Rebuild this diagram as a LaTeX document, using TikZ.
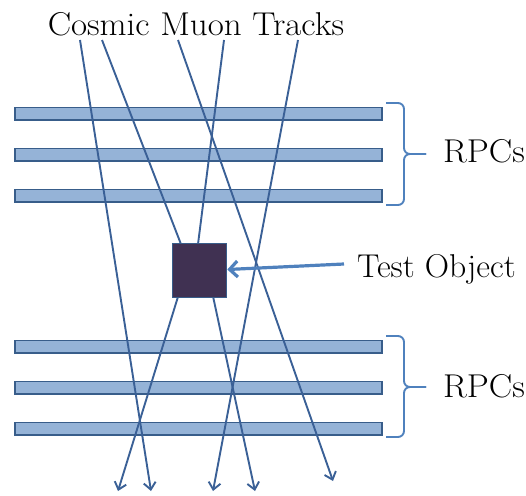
\documentclass[tikz,border=0pt]{standalone}
\usetikzlibrary{arrows.meta}
\definecolor{barfill}{RGB}{149,179,215}
\definecolor{barline}{RGB}{56,93,138}
\definecolor{trackc}{RGB}{58,96,150}
\definecolor{objfill}{RGB}{64,49,82}
\definecolor{bracec}{RGB}{79,129,189}
\newcommand{\widetext}[1]{\scalebox{1.06}[1]{#1}}
\tikzset{
  rpc/.style={draw=barline, fill=barfill, line width=1.8pt, minimum width=367pt, minimum height=12.5pt, inner sep=0pt, anchor=north west},
  track/.style={draw=trackc, line width=1.9pt},
  trackend/.style={track, -{Straight Barb[length=7pt,width=12pt,line width=1.9pt]}},
  lbl/.style={font=\fontsize{33}{33}\selectfont, inner sep=0pt, anchor=base west},
  bracestyle/.style={draw=bracec, line width=1.9pt, rounded corners=6pt},
}
\begin{document}
\begin{tikzpicture}[x=1pt,y=-1pt]
\useasboundingbox (0,0) rectangle (526,495);
% RPC bars
\node[rpc] (b1) at (14,106.5) {};
\node[rpc] (b2) at (14,147.5) {};
\node[rpc] (b3) at (14,188.5) {};
\node[rpc] (b4) at (14,339.5) {};
\node[rpc] (b5) at (14,380.5) {};
\node[rpc] (b6) at (14,421.5) {};
% track coordinates
\coordinate (t1) at (80,40);
\coordinate (t2) at (102,40);
\coordinate (t3) at (178,40);
\coordinate (t4) at (224,40);
\coordinate (t5) at (298,40);
\coordinate (e1) at (118,491);
\coordinate (e2) at (151,491);
\coordinate (e3) at (213,491);
\coordinate (e4) at (255,491);
\coordinate (e5) at (333,481);
\coordinate (i2) at (184,252);
\coordinate (i4) at (197,252);
\coordinate (o1) at (181,287);
\coordinate (o4) at (211,287);
\coordinate (astart) at (344,264);
% tracks
\draw[trackend] (t1) -- (e2);
\draw[track] (t2) -- (i2);
\draw[track] (t4) -- (i4);
\draw[trackend] (o1) -- (e1);
\draw[trackend] (o4) -- (e4);
\draw[trackend] (t3) -- (e5);
\draw[trackend] (t5) -- (e3);
% test object
\node[draw=barline, fill=objfill, line width=1.8pt, minimum size=54pt, inner sep=0pt, anchor=north west] (obj) at (171.5,242.5) {};
% labels
\node[lbl, anchor=base] (title) at (196,35) {\widetext{Cosmic Muon Tracks}};
\node[lbl] (rpcA) at (443,162) {\widetext{RPCs}};
\node[lbl] (rpcB) at (443,397) {\widetext{RPCs}};
\node[lbl] (testlbl) at (357,277) {\scalebox{1.02}[1]{Test Object}};
% arrow to object
\draw[draw=bracec, line width=3.2pt, -{Straight Barb[length=8pt,width=16pt,line width=3.2pt]}] (astart) -- (obj.east |- 0,269.5);
% braces
\draw[bracestyle] (386,103) -- (404,103) -- (404,154) -- (426,154);
\draw[bracestyle] (386,205) -- (404,205) -- (404,154) -- (426,154);
\draw[bracestyle] (386,336) -- (404,336) -- (404,387) -- (426,387);
\draw[bracestyle] (386,437) -- (404,437) -- (404,387) -- (426,387);
\end{tikzpicture}
\end{document}
